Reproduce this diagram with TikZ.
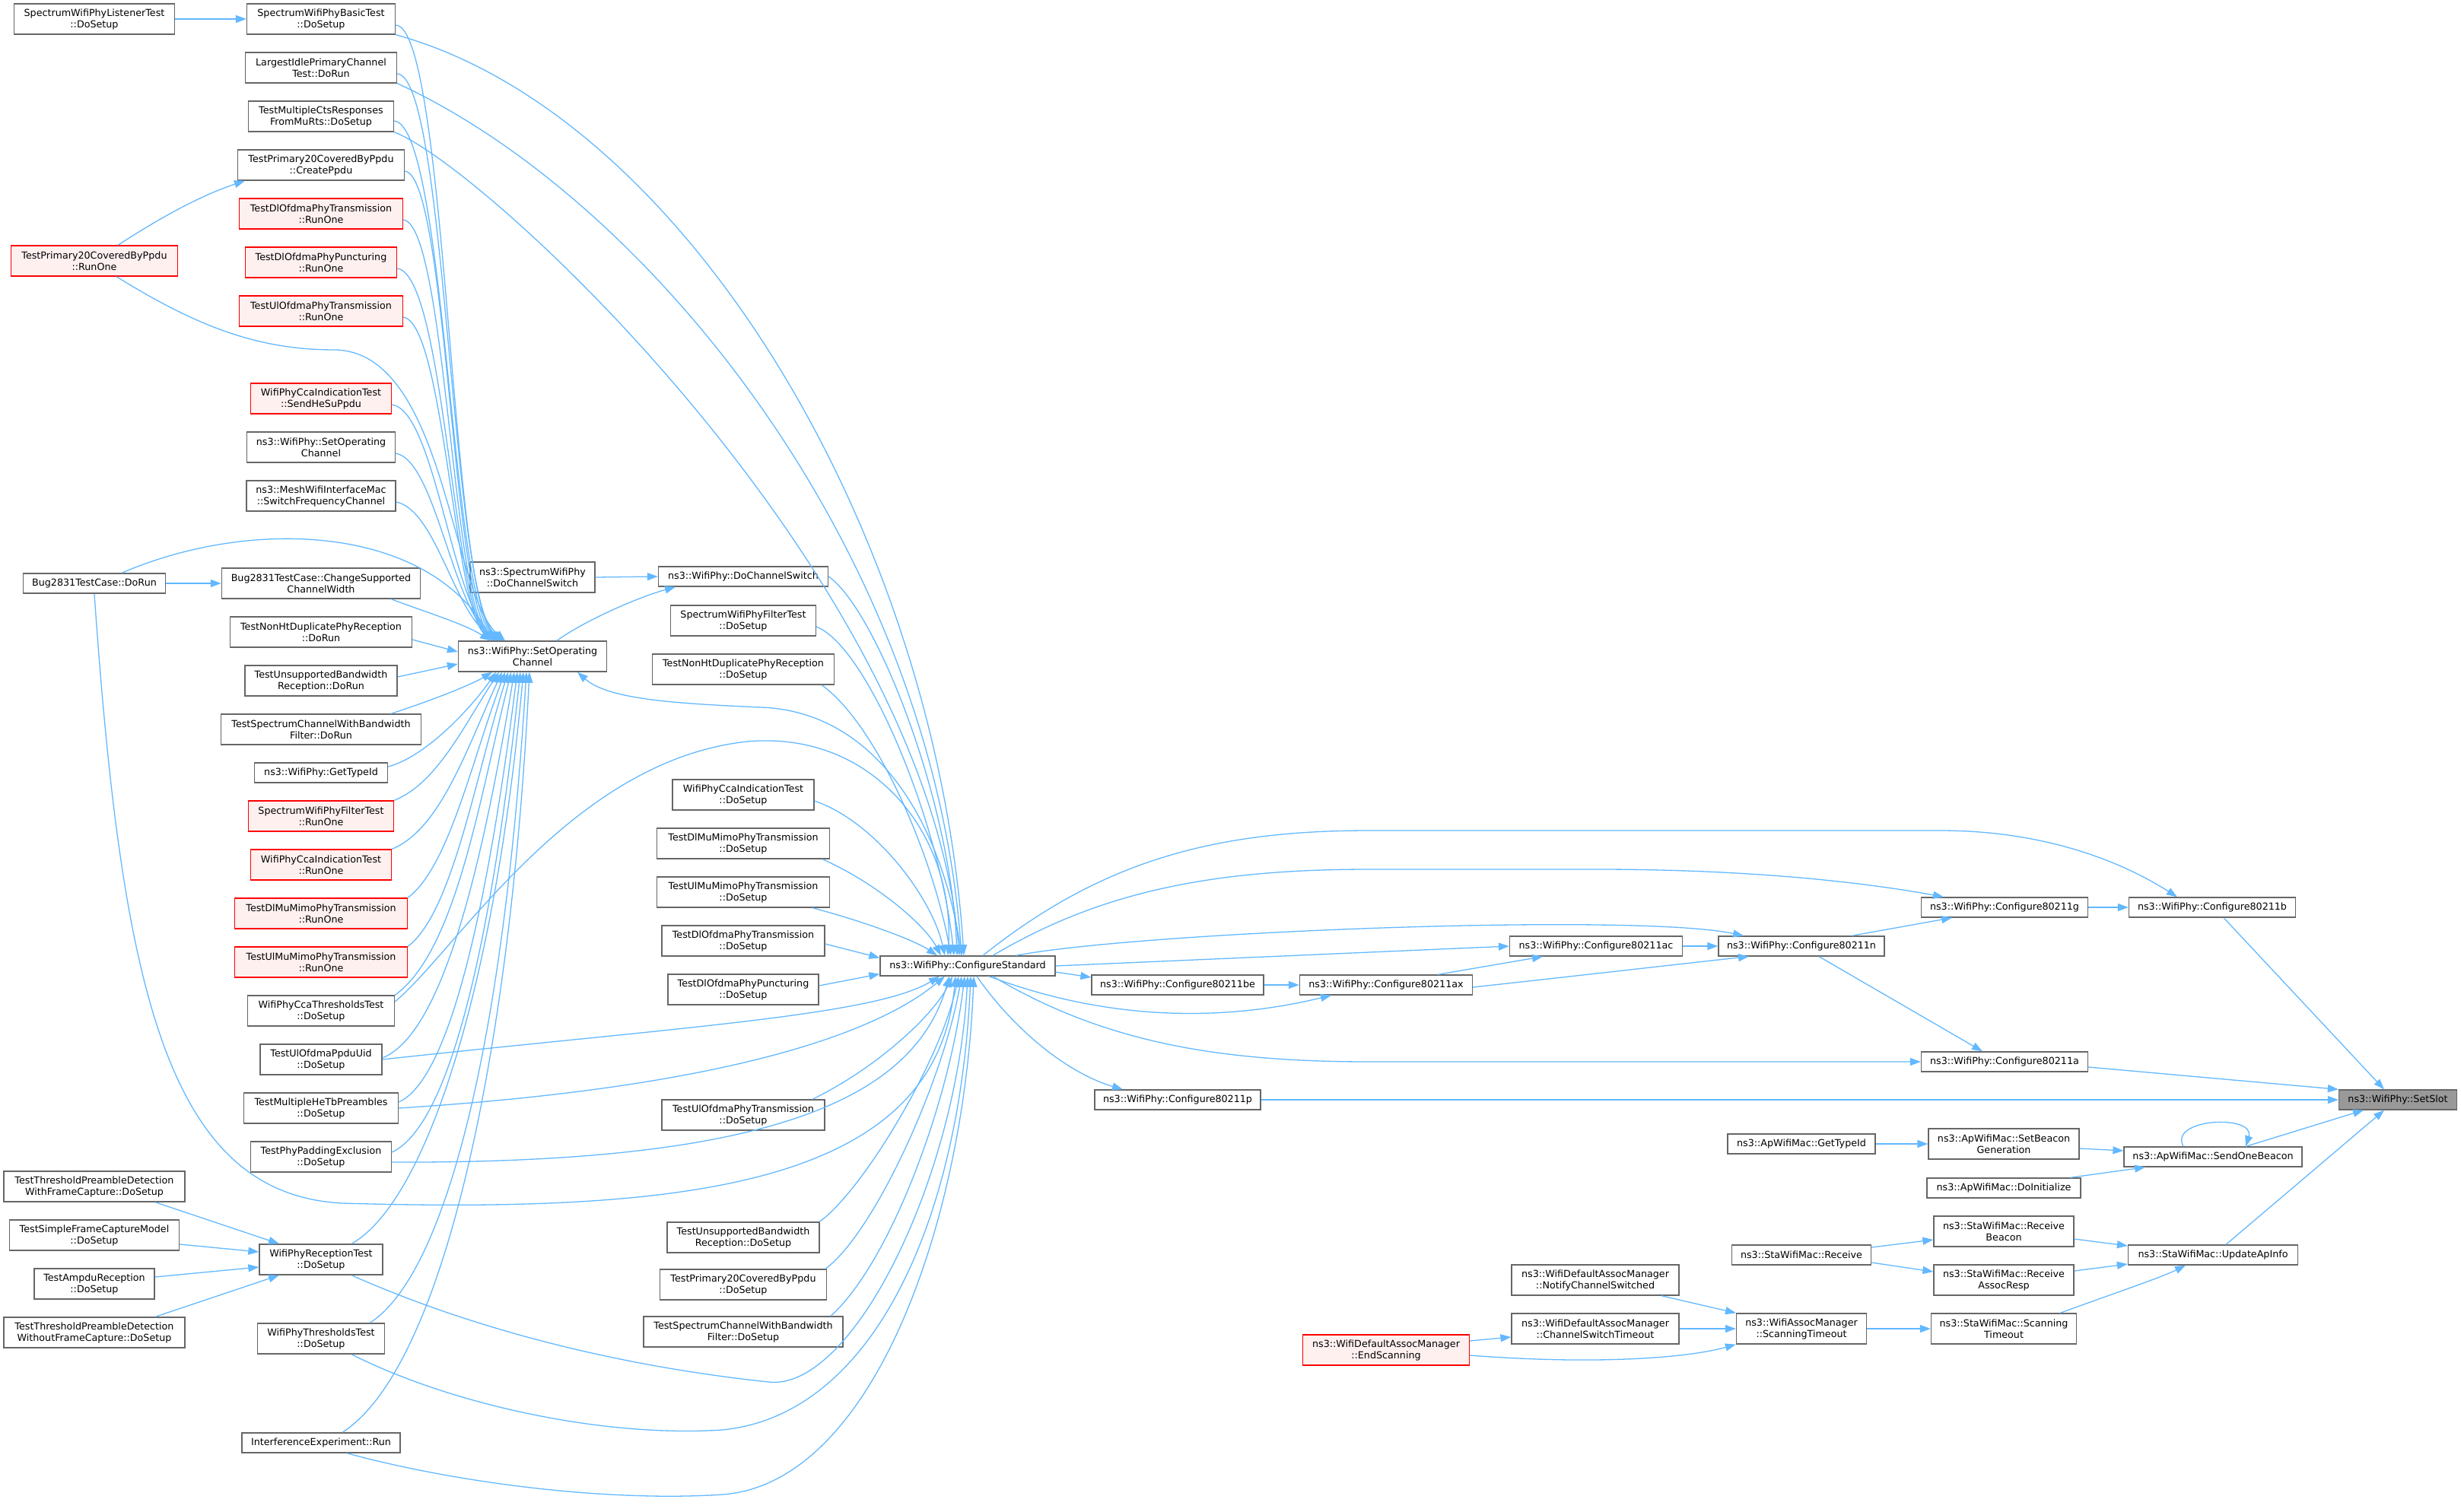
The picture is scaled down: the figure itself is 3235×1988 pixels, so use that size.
\documentclass[tikz,border=0pt]{standalone}
\usepackage{fontspec}
\setmainfont{DejaVu Sans}
\usepackage{tikz}
\usetikzlibrary{arrows.meta}
\definecolor{edgeblue}{HTML}{63B8FF}
\definecolor{boxgray}{HTML}{666666}
\definecolor{boxred}{HTML}{FF0000}
\definecolor{fillred}{HTML}{FFF0F0}
\definecolor{fillslot}{HTML}{999999}

\begin{document}
\begin{tikzpicture}[x=1pt,y=-1pt]
\tikzset{fnode/.style = {shape=rectangle,draw=boxgray,fill=white,line width=1.3pt,align=center,
  inner xsep=3pt,inner ysep=2pt,minimum height=40pt,font=\fontsize{12.7}{15}\selectfont}}
\tikzset{onerow/.style = {minimum height=26pt}}
\tikzset{rednode/.style = {fnode,draw=boxred,fill=fillred}}
\tikzset{slotnode/.style = {fnode,onerow,fill=fillslot}}
\tikzset{edge/.style = {-{Triangle[length=14pt,width=10pt]}, draw=edgeblue, line width=1.3pt}}
\useasboundingbox (0,0) rectangle (3235,1988);
% vertices, left column
\node[fnode,minimum width=211pt] (listener) at (124,25) {SpectrumWifiPhyListenerTest\\::DoSetup};
\node[rednode,minimum width=219pt] (p20run) at (124,343) {TestPrimary20CoveredByPpdu\\::RunOne};
\node[fnode,onerow,minimum width=187pt] (bugrun) at (124,767) {Bug2831TestCase::DoRun};
\node[fnode,minimum width=238pt] (thrwith) at (124,1560) {TestThresholdPreambleDetection\\WithFrameCapture::DoSetup};
\node[fnode,minimum width=223pt] (simplecap) at (124,1624) {TestSimpleFrameCaptureModel\\::DoSetup};
\node[fnode,minimum width=158pt] (ampdu) at (124,1688) {TestAmpduReception\\::DoSetup};
\node[fnode,minimum width=238pt] (thrwithout) at (124,1752) {TestThresholdPreambleDetection\\WithoutFrameCapture::DoSetup};
% vertices, test column
\node[fnode,minimum width=195pt] (basic) at (422,25) {SpectrumWifiPhyBasicTest\\::DoSetup};
\node[fnode,minimum width=199pt] (largest) at (422,89) {LargestIdlePrimaryChannel\\Test::DoRun};
\node[fnode,minimum width=191pt] (multicts) at (422,153) {TestMultipleCtsResponses\\FromMuRts::DoSetup};
\node[fnode,minimum width=219pt] (createppdu) at (422,217) {TestPrimary20CoveredByPpdu\\::CreatePpdu};
\node[rednode,minimum width=215pt] (dlofdmarun) at (422,281) {TestDlOfdmaPhyTransmission\\::RunOne};
\node[rednode,minimum width=199pt] (dlpuncrun) at (422,345) {TestDlOfdmaPhyPuncturing\\::RunOne};
\node[rednode,minimum width=215pt] (ulofdmarun) at (422,409) {TestUlOfdmaPhyTransmission\\::RunOne};
\node[rednode,minimum width=185pt] (sendhesu) at (422,524) {WifiPhyCcaIndicationTest\\::SendHeSuPpdu};
\node[fnode,minimum width=195pt] (setopch2) at (422,588) {ns3::WifiPhy::SetOperating\\Channel};
\node[fnode,minimum width=196pt] (meshswitch) at (422,652) {ns3::MeshWifiInterfaceMac\\::SwitchFrequencyChannel};
\node[fnode,minimum width=261pt] (changewidth) at (422,767) {Bug2831TestCase::ChangeSupported\\ChannelWidth};
\node[fnode,minimum width=239pt] (nonhtrun) at (422,831) {TestNonHtDuplicatePhyReception\\::DoRun};
\node[fnode,minimum width=200pt] (unsuprun) at (422,895) {TestUnsupportedBandwidth\\Reception::DoRun};
\node[fnode,minimum width=263pt] (specbwrun) at (422,959) {TestSpectrumChannelWithBandwidth\\Filter::DoRun};
\node[fnode,onerow,minimum width=175pt] (phytypeid) at (422,1016) {ns3::WifiPhy::GetTypeId};
\node[rednode,minimum width=191pt] (filterrun) at (422,1073) {SpectrumWifiPhyFilterTest\\::RunOne};
\node[rednode,minimum width=185pt] (ccarun) at (422,1137) {WifiPhyCcaIndicationTest\\::RunOne};
\node[rednode,minimum width=227pt] (dlmimorun) at (422,1201) {TestDlMuMimoPhyTransmission\\::RunOne};
\node[rednode,minimum width=227pt] (ulmimorun) at (422,1265) {TestUlMuMimoPhyTransmission\\::RunOne};
\node[fnode,minimum width=193pt] (ccathr) at (422,1329) {WifiPhyCcaThresholdsTest\\::DoSetup};
\node[fnode,minimum width=160pt] (ppduuid) at (422,1393) {TestUlOfdmaPpduUid\\::DoSetup};
\node[fnode,minimum width=203pt] (hetb) at (422,1457) {TestMultipleHeTbPreambles\\::DoSetup};
\node[fnode,minimum width=185pt] (padding) at (422,1521) {TestPhyPaddingExclusion\\::DoSetup};
\node[fnode,minimum width=162pt] (reception) at (422,1656) {WifiPhyReceptionTest\\::DoSetup};
\node[fnode,minimum width=167pt] (thresholds) at (422,1760) {WifiPhyThresholdsTest\\::DoSetup};
\node[fnode,onerow,minimum width=208pt] (interference) at (422,1897) {InterferenceExperiment::Run};
% vertices, channel switching
\node[fnode,minimum width=164pt] (specswitch) at (700,759) {ns3::SpectrumWifiPhy\\::DoChannelSwitch};
\node[fnode,minimum width=195pt] (setopch) at (700,863) {ns3::WifiPhy::SetOperating\\Channel};
\node[fnode,onerow,minimum width=223pt] (doswitch) at (977,758) {ns3::WifiPhy::DoChannelSwitch};
\node[fnode,minimum width=191pt] (filtersetup) at (977,816) {SpectrumWifiPhyFilterTest\\::DoSetup};
\node[fnode,minimum width=239pt] (nonhtsetup) at (977,880) {TestNonHtDuplicatePhyReception\\::DoSetup};
\node[fnode,minimum width=186pt] (ccasetup) at (977,1045) {WifiPhyCcaIndicationTest\\::DoSetup};
\node[fnode,minimum width=227pt] (dlmimosetup) at (977,1109) {TestDlMuMimoPhyTransmission\\::DoSetup};
\node[fnode,minimum width=227pt] (ulmimosetup) at (977,1173) {TestUlMuMimoPhyTransmission\\::DoSetup};
\node[fnode,minimum width=214pt] (dlofdmasetup) at (977,1237) {TestDlOfdmaPhyTransmission\\::DoSetup};
\node[fnode,minimum width=198pt] (dlpuncsetup) at (977,1301) {TestDlOfdmaPhyPuncturing\\::DoSetup};
\node[fnode,minimum width=214pt] (ulofdmasetup) at (977,1466) {TestUlOfdmaPhyTransmission\\::DoSetup};
\node[fnode,minimum width=200pt] (unsupsetup) at (977,1627) {TestUnsupportedBandwidth\\Reception::DoSetup};
\node[fnode,minimum width=219pt] (p20setup) at (977,1689) {TestPrimary20CoveredByPpdu\\::DoSetup};
\node[fnode,minimum width=262pt] (specbwsetup) at (977,1751) {TestSpectrumChannelWithBandwidth\\Filter::DoSetup};
% vertices, standards
\node[fnode,onerow,minimum width=230pt] (cs) at (1272,1270) {ns3::WifiPhy::ConfigureStandard};
\node[fnode,onerow,minimum width=226pt] (cfgbe) at (1548,1295) {ns3::WifiPhy::Configure80211be};
\node[fnode,onerow,minimum width=218pt] (cfgp) at (1548,1446) {ns3::WifiPhy::Configure80211p};
\node[fnode,onerow,minimum width=227pt] (cfgax) at (1822,1295) {ns3::WifiPhy::Configure80211ax};
\node[fnode,onerow,minimum width=227pt] (cfgac) at (2098,1244) {ns3::WifiPhy::Configure80211ac};
\node[fnode,onerow,minimum width=218pt] (cfgn) at (2368,1244) {ns3::WifiPhy::Configure80211n};
\node[fnode,onerow,minimum width=219pt] (cfgg) at (2635,1193) {ns3::WifiPhy::Configure80211g};
\node[fnode,onerow,minimum width=219pt] (cfga) at (2635,1396) {ns3::WifiPhy::Configure80211a};
\node[fnode,onerow,minimum width=219pt] (cfgb) at (2908,1193) {ns3::WifiPhy::Configure80211b};
\node[slotnode,minimum width=155pt] (setslot) at (3152,1446) {ns3::WifiPhy::SetSlot};
% vertices, mac side
\node[rednode,minimum width=219pt] (endscan) at (1822,1775) {ns3::WifiDefaultAssocManager\\::EndScanning};
\node[fnode,minimum width=220pt] (notify) at (2097,1683) {ns3::WifiDefaultAssocManager\\::NotifyChannelSwitched};
\node[fnode,minimum width=220pt] (chtimeout) at (2097,1747) {ns3::WifiDefaultAssocManager\\::ChannelSwitchTimeout};
\node[fnode,onerow,minimum width=194pt] (aptypeid) at (2368,1504) {ns3::ApWifiMac::GetTypeId};
\node[fnode,onerow,minimum width=183pt] (stareceive) at (2368,1650) {ns3::StaWifiMac::Receive};
\node[fnode,minimum width=171pt] (wamscan) at (2368,1747) {ns3::WifiAssocManager\\::ScanningTimeout};
\node[fnode,minimum width=198pt] (setbeacon) at (2634,1504) {ns3::ApWifiMac::SetBeacon\\Generation};
\node[fnode,onerow,minimum width=202pt] (doinit) at (2634,1562) {ns3::ApWifiMac::DoInitialize};
\node[fnode,minimum width=184pt] (rxbeacon) at (2634,1619) {ns3::StaWifiMac::Receive\\Beacon};
\node[fnode,minimum width=184pt] (rxassoc) at (2634,1683) {ns3::StaWifiMac::Receive\\AssocResp};
\node[fnode,minimum width=191pt] (stascan) at (2634,1747) {ns3::StaWifiMac::Scanning\\Timeout};
\node[fnode,onerow,minimum width=234pt] (sendbeacon) at (2909,1521) {ns3::ApWifiMac::SendOneBeacon};
\node[fnode,onerow,minimum width=223pt] (updateap) at (2909,1650) {ns3::StaWifiMac::UpdateApInfo};
%edges, left column
\draw[edge] (listener.east) -- (basic.west);
\draw[edge] (bugrun.east) -- (changewidth.west);
\draw[edge] ([xshift=31pt]p20run.north) .. controls (220,280) and (270,255) .. ([xshift=-100pt]createppdu.south);
\draw[edge] ([xshift=80pt]thrwith.south) -- ([xshift=-55pt]reception.north);
\draw[edge] ([yshift=-12pt]simplecap.east) -- ([yshift=10pt]reception.west);
\draw[edge] ([yshift=9pt]ampdu.east) -- ([yshift=-10pt]reception.west);
\draw[edge] ([xshift=80pt]thrwithout.north) -- ([xshift=-55pt]reception.south);
%edges into SetOperatingChannel from above
\draw[edge] ([yshift=-8pt]basic.east) .. controls (588,35) and (592,790) .. ([xshift=-40pt]setopch.north);
\draw[edge] ([yshift=-8pt]largest.east) .. controls (588,100) and (592,790) .. ([xshift=-38pt]setopch.north);
\draw[edge] ([yshift=-6pt]multicts.east) .. controls (586,165) and (593,792) .. ([xshift=-42pt]setopch.north);
\draw[edge] ([yshift=-8pt]createppdu.east) .. controls (588,230) and (594,795) .. ([xshift=-45pt]setopch.north);
\draw[edge] ([yshift=-8pt]dlofdmarun.east) .. controls (586,295) and (595,798) .. ([xshift=-48pt]setopch.north);
\draw[edge] ([yshift=-8pt]dlpuncrun.east) .. controls (584,360) and (596,800) .. ([xshift=-50pt]setopch.north);
\draw[edge] ([yshift=-8pt]ulofdmarun.east) .. controls (584,425) and (597,802) .. ([xshift=-52pt]setopch.north);
\draw[edge] ([yshift=-8pt]sendhesu.east) .. controls (572,540) and (594,796) .. ([xshift=-44pt]setopch.north);
\draw[edge] ([yshift=-8pt]setopch2.east) .. controls (572,605) and (595,798) .. ([xshift=-46pt]setopch.north);
\draw[edge] ([yshift=-8pt]meshswitch.east) .. controls (572,670) and (596,800) .. ([xshift=-48pt]setopch.north);
\draw[edge] ([xshift=29pt]p20run.south) .. controls (260,430) and (340,460) .. (440,460)
  .. controls (585,462) and (592,780) .. ([xshift=-36pt]setopch.north);
\draw[edge] ([xshift=36pt]bugrun.north) .. controls (330,680) and (560,690) .. ([xshift=-52pt]setopch.north);
\draw[edge] ([xshift=92pt]changewidth.south) .. controls (560,805) and (610,820) .. ([xshift=-55pt]setopch.north);
\draw[edge] ([yshift=-10pt]nonhtrun.east) -- ([yshift=6pt]setopch.west);
\draw[edge] ([yshift=5pt]unsuprun.east) -- ([yshift=-10pt]setopch.west);
\draw[edge] ([xshift=92pt]specbwrun.north) .. controls (570,920) and (620,900) .. ([xshift=-53pt]setopch.south);
%edges into SetOperatingChannel from below
\draw[edge] ([yshift=8pt]phytypeid.east) .. controls (560,995) and (620,930) .. ([xshift=-48pt]setopch.south);
\draw[edge] (filterrun.north east) .. controls (575,1030) and (612,950) .. ([xshift=-44pt]setopch.south);
\draw[edge] (ccarun.north east) .. controls (580,1090) and (615,980) .. ([xshift=-40pt]setopch.south);
\draw[edge] (dlmimorun.north east) .. controls (590,1140) and (620,1000) .. ([xshift=-36pt]setopch.south);
\draw[edge] (ulmimorun.north east) .. controls (595,1200) and (625,1020) .. ([xshift=-32pt]setopch.south);
\draw[edge] (ccathr.north east) .. controls (600,1250) and (630,1050) .. ([xshift=-28pt]setopch.south);
\draw[edge] ([yshift=2pt]ppduuid.east) .. controls (580,1360) and (632,1150) .. ([xshift=-24pt]setopch.south);
\draw[edge] ([yshift=8pt]hetb.east) .. controls (590,1420) and (640,1200) .. ([xshift=-20pt]setopch.south);
\draw[edge] ([yshift=6pt]padding.east) .. controls (590,1480) and (645,1250) .. ([xshift=-16pt]setopch.south);
\draw[edge] ([xshift=40pt]reception.north) .. controls (560,1580) and (650,1300) .. ([xshift=-12pt]setopch.south);
\draw[edge] ([xshift=64pt]thresholds.north) .. controls (580,1680) and (660,1400) .. ([xshift=-8pt]setopch.south);
\draw[edge] ([xshift=28pt]interference.north) .. controls (580,1800) and (670,1400) .. ([xshift=-4pt]setopch.south);
%edges of channel switching
\draw[edge] (specswitch.east) -- (doswitch.west);
\draw[edge] ([xshift=32pt]setopch.north) .. controls (770,815) and (840,785) .. ([xshift=-89pt]doswitch.south);
\draw[edge] ([xshift=-8pt]cs.north) .. controls (1240,1080) and (1150,935) .. (1000,930)
  .. controls (890,925) and (800,920) .. ([xshift=59pt]setopch.south);
%edges into ConfigureStandard from above
\draw[edge] (basic.south east) .. controls (900,150) and (1230,700) .. ([xshift=-5pt]cs.north);
\draw[edge] (largest.south east) .. controls (850,260) and (1225,720) .. ([xshift=-8pt]cs.north);
\draw[edge] (multicts.south east) .. controls (640,220) and (1220,760) .. ([xshift=-11pt]cs.north);
\draw[edge] (doswitch.east) .. controls (1150,800) and (1250,1050) .. ([xshift=-14pt]cs.north);
\draw[edge] ([yshift=-8pt]filtersetup.east) .. controls (1140,850) and (1235,1080) .. ([xshift=-18pt]cs.north);
\draw[edge] ([xshift=103pt]nonhtsetup.south) .. controls (1150,950) and (1225,1120) .. ([xshift=-22pt]cs.north);
\draw[edge] ([yshift=12pt]ccathr.east) .. controls (600,1250) and (750,1000) .. (982,975)
  .. controls (1150,960) and (1255,1100) .. ([xshift=-26pt]cs.north);
\draw[edge] ([yshift=-8pt]ccasetup.east) .. controls (1150,1080) and (1225,1180) .. ([xshift=-30pt]cs.north);
\draw[edge] ([xshift=104pt]dlmimosetup.south) .. controls (1150,1160) and (1215,1215) .. ([xshift=-35pt]cs.north);
\draw[edge] ([xshift=91pt]ulmimosetup.south) .. controls (1130,1210) and (1200,1235) .. ([xshift=-40pt]cs.north);
\draw[edge] ([yshift=-4pt]dlofdmasetup.east) -- ([yshift=-3pt]cs.north west);
\draw[edge] ([yshift=5pt]dlpuncsetup.east) -- ([yshift=3pt]cs.south west);
%edges into ConfigureStandard from below
\draw[edge] (ppduuid.east) .. controls (900,1350) and (1150,1335) .. ([xshift=-37pt]cs.south);
\draw[edge] (hetb.east) .. controls (950,1430) and (1150,1360) .. ([xshift=-30pt]cs.south);
\draw[edge] ([yshift=-7pt]padding.east) .. controls (1000,1530) and (1200,1450) .. ([xshift=-24pt]cs.south);
\draw[edge] ([xshift=91pt]ulofdmasetup.north) .. controls (1160,1400) and (1230,1330) .. ([xshift=-20pt]cs.south);
\draw[edge] (bugrun.south) .. controls (160,1300) and (220,1570) .. (450,1582)
  .. controls (900,1595) and (1230,1560) .. ([xshift=-16pt]cs.south);
\draw[edge] ([xshift=100pt]unsupsetup.north) .. controls (1130,1570) and (1235,1400) .. ([xshift=-12pt]cs.south);
\draw[edge] ([xshift=108pt]p20setup.north) .. controls (1150,1620) and (1240,1420) .. ([xshift=-8pt]cs.south);
\draw[edge] ([xshift=115pt]specbwsetup.north) .. controls (1170,1660) and (1248,1450) .. ([xshift=-4pt]cs.south);
\draw[edge] ([xshift=40pt]reception.south) .. controls (650,1760) and (850,1800) .. (1010,1817)
  .. controls (1120,1830) and (1258,1550) .. ([xshift=0pt]cs.south);
\draw[edge] ([xshift=40pt]thresholds.south) .. controls (600,1850) and (800,1890) .. (950,1880)
  .. controls (1150,1860) and (1262,1600) .. ([xshift=4pt]cs.south);
\draw[edge] ([xshift=34pt]interference.south) .. controls (600,1950) and (800,1975) .. (950,1965)
  .. controls (1150,1950) and (1268,1600) .. ([xshift=8pt]cs.south);
%edges out of ConfigureStandard
\draw[edge] ([xshift=20pt]cs.north) .. controls (1450,1130) and (1600,1092) .. (1800,1092) -- (2550,1092)
  .. controls (2700,1092) and (2800,1140) .. ([xshift=-46pt]cfgb.north);
\draw[edge] ([xshift=33pt]cs.north) .. controls (1450,1170) and (1600,1143) .. (1800,1143) -- (2100,1143)
  .. controls (2300,1143) and (2450,1160) .. ([xshift=-80pt]cfgg.north);
\draw[edge] ([xshift=63pt]cs.north) .. controls (1500,1225) and (2150,1200) .. ([xshift=-76pt]cfgn.north);
\draw[edge] (cs.east) -- (cfgac.west);
\draw[edge] ([yshift=-8pt]cs.east) -- ([yshift=10pt]cfgbe.west);
\draw[edge] ([xshift=28pt]cs.south) .. controls (1450,1340) and (1600,1345) .. ([xshift=-72pt]cfgax.south);
\draw[edge] ([xshift=33pt]cs.south) .. controls (1450,1370) and (1600,1396) .. (1800,1396) -- (cfga.west);
\draw[edge] ([xshift=12pt]cs.south) .. controls (1330,1350) and (1400,1410) .. ([xshift=-72pt]cfgp.north);
%edges between standards
\draw[edge] (cfgbe.east) -- (cfgax.west);
\draw[edge] ([xshift=68pt]cfgax.north) -- ([xshift=-70pt]cfgac.south);
\draw[edge] ([yshift=-3pt]cfgax.east) .. controls (2100,1280) and (2230,1265) .. ([xshift=-69pt]cfgn.south);
\draw[edge] (cfgac.east) -- (cfgn.west);
\draw[edge] ([xshift=66pt]cfgn.north) -- ([xshift=-69pt]cfgg.south);
\draw[edge] ([xshift=23pt]cfgn.south) -- ([xshift=-29pt]cfga.north);
\draw[edge] (cfgg.east) -- (cfgb.west);
\draw[edge] ([xshift=15pt]cfgb.south) -- ([xshift=-18pt]setslot.north);
\draw[edge] ([yshift=-7pt]cfga.east) -- (setslot.north west);
\draw[edge] (cfgp.east) -- (setslot.west);
%edges on the mac side
\draw[edge] ([xshift=43pt]sendbeacon.north) -- ([xshift=-45pt]setslot.south);
\draw[edge] ([xshift=17pt]updateap.north) -- ([xshift=-18pt]setslot.south);
\draw[edge] ([xshift=-39pt]sendbeacon.north) .. controls (2850,1470) and (2965,1465) .. ([xshift=43pt]sendbeacon.north);
\draw[edge] ([yshift=-6pt]setbeacon.east) -- ([yshift=8pt]sendbeacon.west);
\draw[edge] ([xshift=87pt]doinit.north) -- ([xshift=-89pt]sendbeacon.south);
\draw[edge] (aptypeid.east) -- (setbeacon.west);
\draw[edge] ([yshift=10pt]stareceive.east) -- ([yshift=-11pt]rxbeacon.west);
\draw[edge] ([yshift=-10pt]stareceive.east) -- ([yshift=11pt]rxassoc.west);
\draw[edge] ([yshift=-10pt]rxbeacon.east) -- ([yshift=12pt]updateap.west);
\draw[edge] ([yshift=12pt]rxassoc.east) -- ([yshift=-12pt]updateap.west);
\draw[edge] ([xshift=74pt]stascan.north) .. controls (2780,1700) and (2840,1680) .. ([xshift=-36pt]updateap.south);
\draw[edge] (wamscan.east) -- (stascan.west);
\draw[edge] ([xshift=87pt]notify.south) -- ([xshift=-86pt]wamscan.north);
\draw[edge] (chtimeout.east) -- (wamscan.west);
\draw[edge] ([yshift=12pt]endscan.east) -- ([yshift=-11pt]chtimeout.west);
\draw[edge] ([yshift=-7pt]endscan.east) .. controls (2100,1795) and (2220,1785) .. (wamscan.south west);
\end{tikzpicture}
\end{document}
